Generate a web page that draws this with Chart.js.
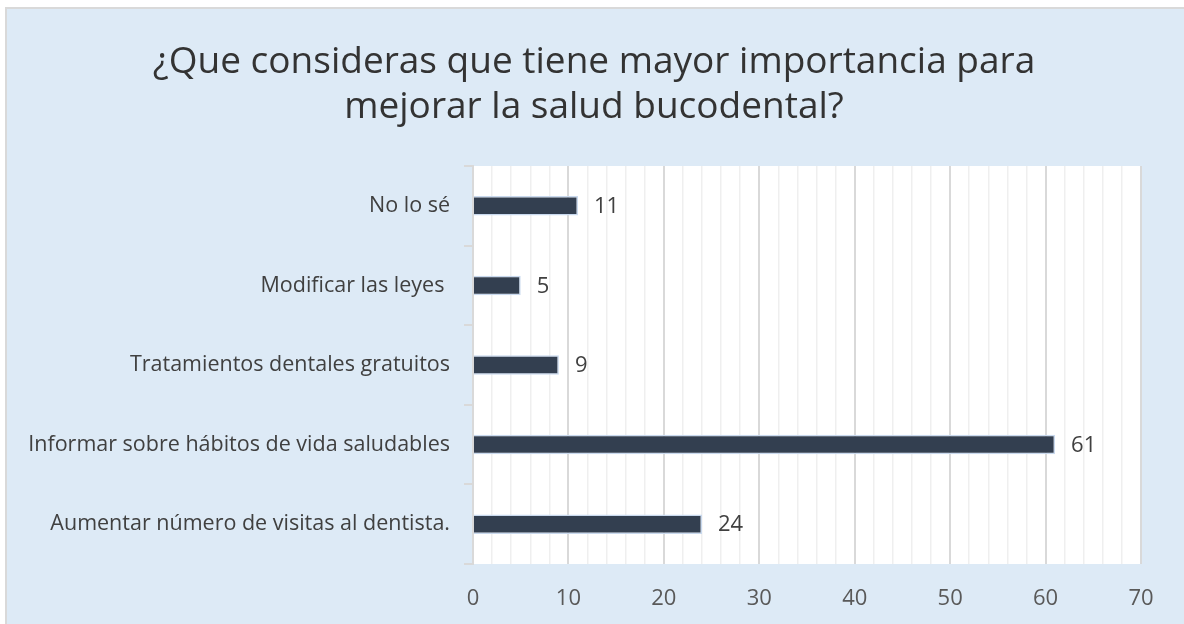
<!DOCTYPE html>
<html>
<head>
<meta charset="utf-8">
<script src="https://cdn.jsdelivr.net/npm/chart.js@4"></script>
<style>
  html, body { margin: 0; padding: 0; background: #fff; }
  #wrap { width: 1184px; height: 624px; }
</style>
</head>
<body>
<div id="wrap"><canvas id="barChart" width="1184" height="624"></canvas></div>
<script>
const categories = [
  'No lo sé',
  'Modificar las leyes ',
  'Tratamientos dentales gratuitos',
  'Informar sobre hábitos de vida saludables',
  'Aumentar número de visitas al dentista.'
];
const values = [11, 5, 9, 61, 24];
const xTicks = [0, 10, 20, 30, 40, 50, 60, 70];
const titleLines = ['¿Que consideras que tiene mayor importancia para', 'mejorar la salud bucodental?'];

const FONT = '"Open Sans", "Noto Sans", sans-serif';

// frame, white plot area and the centred title
const backdrop = {
  id: 'backdrop',
  beforeDraw(chart) {
    const ctx = chart.ctx;
    const a = chart.chartArea;
    ctx.save();
    ctx.fillStyle = '#fff';
    ctx.fillRect(0, 0, chart.width, chart.height);
    ctx.fillStyle = '#DDEAF6';
    ctx.fillRect(6, 8, chart.width, chart.height);
    ctx.strokeStyle = '#D9D9D9';
    ctx.lineWidth = 2;
    ctx.strokeRect(6, 8, chart.width + 10, chart.height + 10);
    ctx.fillStyle = '#fff';
    ctx.fillRect(a.left, a.top, a.right - a.left, a.bottom - a.top);

    ctx.font = '37px ' + FONT;
    ctx.fillStyle = '#333333';
    ctx.textAlign = 'center';
    ctx.textBaseline = 'middle';
    titleLines.forEach((t, i) => ctx.fillText(t, 594, 62 + i * 45));
    ctx.restore();
  }
};

// value labels to the right of each bar
const valueLabels = {
  id: 'valueLabels',
  afterDatasetsDraw(chart) {
    const ctx = chart.ctx;
    const meta = chart.getDatasetMeta(0);
    ctx.save();
    ctx.font = '22px ' + FONT;
    ctx.fillStyle = '#404040';
    ctx.textBaseline = 'middle';
    ctx.textAlign = 'left';
    meta.data.forEach((bar, i) => {
      ctx.fillText(String(values[i]), bar.x + 16, bar.y + 1);
    });
    ctx.restore();
  }
};

new Chart(document.getElementById('barChart').getContext('2d'), {
  type: 'bar',
  data: {
    labels: categories,
    datasets: [{
      data: values,
      backgroundColor: '#333F50',
      borderColor: '#C9D9EE',
      borderWidth: 1.5,
      categoryPercentage: 1,
      barPercentage: 0.245
    }]
  },
  options: {
    indexAxis: 'y',
    responsive: false,
    animation: false,
    layout: { padding: { left: 10, right: 43, top: 166, bottom: 0 } },
    plugins: {
      legend: { display: false },
      tooltip: { enabled: false },
      title: { display: false }
    },
    scales: {
      x: {
        min: 0,
        max: 70,
        ticks: {
          stepSize: 2,
          autoSkip: false,
          maxRotation: 0,
          color: '#595959',
          font: { family: FONT, size: 22 },
          padding: 22,
          callback: v => (xTicks.includes(v) ? v : '')
        },
        grid: {
          color: c => (c.tick && c.tick.value % 10 === 0 ? '#D9D9D9' : '#EFEFEF'),
          lineWidth: c => (c.tick && c.tick.value % 10 === 0 ? 2 : 1.5),
          drawTicks: false
        },
        border: { display: false },
        afterFit: s => { s.height = 60; }
      },
      y: {
        ticks: {
          color: '#404040',
          font: { family: FONT, size: 21.5 },
          padding: 14
        },
        grid: {
          offset: true,
          drawOnChartArea: false,
          drawTicks: true,
          tickLength: 9,
          color: '#D9D9D9',
          lineWidth: 2
        },
        border: { display: true, color: '#D9D9D9', width: 2 },
        afterFit: s => { s.width = 463; }
      }
    }
  },
  plugins: [backdrop, valueLabels]
});
</script>
</body>
</html>
